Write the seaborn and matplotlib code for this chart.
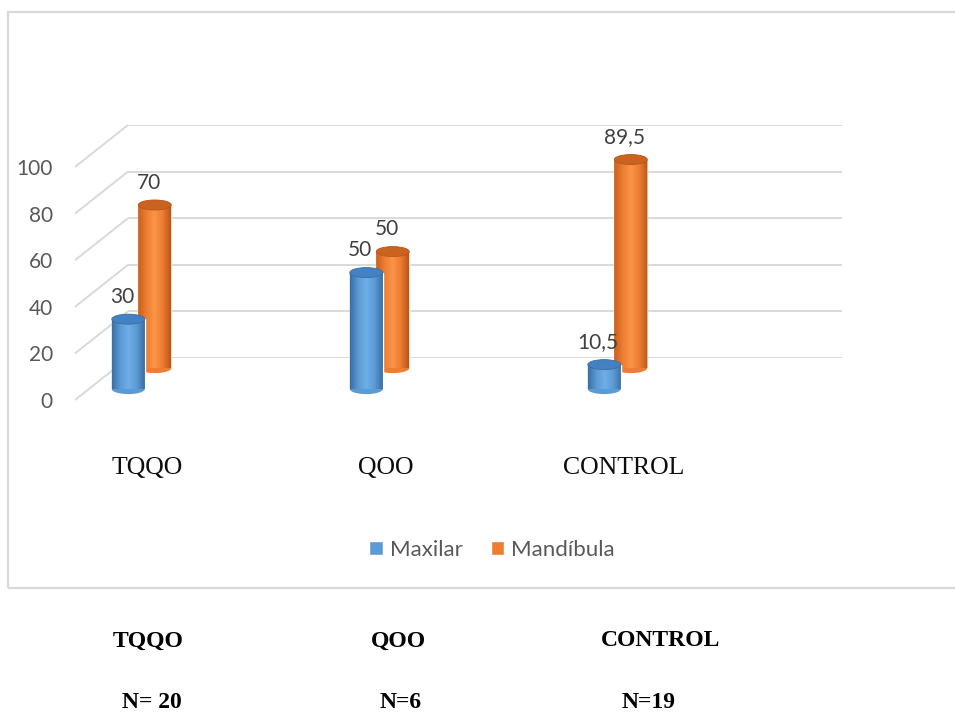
import numpy as np
import matplotlib
matplotlib.use("Agg")
import matplotlib.pyplot as plt
import seaborn as sns
from matplotlib.patches import Ellipse, Rectangle, Patch, PathPatch
from matplotlib.path import Path
from matplotlib.colors import LinearSegmentedColormap

# ---- data -------------------------------------------------------------
categories = ["TQQO", "QOO", "CONTROL"]
maxilar = [30, 50, 10.5]
mandibula = [70, 50, 89.5]
series_names = ["Maxilar", "Mandíbula"]
group_sizes = ["N= 20", "N=6", "N=19"]
y_ticks = [0, 20, 40, 60, 80, 100]

# ---- figure / style ---------------------------------------------------
W, H, DPI = 955, 713, 100
sns.set_theme(style="white")
plt.rcParams["font.family"] = ["Lato", "DejaVu Sans"]
fig = plt.figure(figsize=(W / DPI, H / DPI), dpi=DPI)
fig.patch.set_facecolor("white")

BLUE, ORANGE = "#5B9BD5", "#ED7D31"
GRID = "#D9D9D9"
TXT = "#595959"

# pseudo-3D layout in pixels (y measured from the top of the canvas)
FRONT_LEFT, FRONT_RIGHT = 75, 789
FRONT_BASE, FRONT_TOP = 400, 167
DEPTH_DX, DEPTH_DY = 53, 42
CAT0, CAT_STEP = 114.5, 238
BAR_W = 33 / CAT_STEP
PX_PER_UNIT = (FRONT_BASE - FRONT_TOP) / 100.0
ELL_H = 10 / PX_PER_UNIT
XLIM = ((FRONT_LEFT - CAT0) / CAT_STEP, (FRONT_RIGHT - CAT0) / CAT_STEP)


def plane_axes(depth, z):
    left = FRONT_LEFT + DEPTH_DX * depth
    base = FRONT_BASE - DEPTH_DY * depth
    rect = [left / W, 1 - base / H,
            (FRONT_RIGHT - FRONT_LEFT) / W, (FRONT_BASE - FRONT_TOP) / H]
    ax = fig.add_axes(rect, zorder=z)
    ax.patch.set_alpha(0)
    return ax


def finish(ax):
    ax.set_xlim(*XLIM)
    ax.set_ylim(0, 100)
    ax.set_xlabel("")
    ax.set_ylabel("")
    for s in ax.spines.values():
        s.set_visible(False)
    ax.set_xticks([])
    ax.set_yticks([])


# ---- back wall with gridlines and receding side lines ---------------
ax_wall = plane_axes(1.0, 0)
finish(ax_wall)
ax_wall.hlines(y_ticks, XLIM[0], XLIM[1], color=GRID, lw=1.4)
dxu = DEPTH_DX / CAT_STEP
dyu = DEPTH_DY / PX_PER_UNIT
for v in y_ticks:
    ax_wall.plot([XLIM[0] - dxu, XLIM[0]], [v - dyu, v], color=GRID,
                 lw=1.4, clip_on=False, solid_capstyle="butt")


# ---- cylinders --------------------------------------------------------
def cylinders(ax, values, base, dark_l, light, dark_r, top):
    sns.barplot(x=categories, y=values, order=categories, ax=ax,
                color=base, width=BAR_W, saturation=1, zorder=2)
    finish(ax)
    cmap = LinearSegmentedColormap.from_list(
        "shade", [dark_l, base, light, base, dark_r])
    grad = np.linspace(0, 1, 64).reshape(1, -1)
    for bar, v in zip(list(ax.patches), values):
        x0, w, h = bar.get_x(), bar.get_width(), bar.get_height()
        cx = x0 + w / 2
        t = np.linspace(np.pi, 2 * np.pi, 40)
        arc = np.column_stack([cx + w / 2 * np.cos(t), ELL_H / 2 * np.sin(t)])
        verts = np.vstack([[x0, h], arc, [x0 + w, h], [x0, h]])
        body = PathPatch(Path(verts), transform=ax.transData,
                         facecolor=base, edgecolor="none", zorder=2,
                         clip_on=False)
        ax.add_patch(body)
        im = ax.imshow(grad, extent=[x0, x0 + w, -ELL_H / 2, h],
                       aspect="auto", cmap=cmap, zorder=3,
                       interpolation="bilinear")
        im.set_clip_path(body)
        im.set_clip_box(None)
        ax.add_patch(Ellipse((cx, h), w, ELL_H, facecolor=top,
                             edgecolor=dark_r, lw=0.6, zorder=4,
                             clip_on=False))
        label = f"{v:g}".replace(".", ",")
        ax.annotate(label, (cx, h), xytext=(-4.5, 16),
                    textcoords="offset points", ha="center", va="center",
                    fontsize=15, color="#404040", annotation_clip=False)
    finish(ax)
    ax.set_aspect("auto")


ax_back = plane_axes(0.76, 1)
cylinders(ax_back, mandibula, ORANGE, "#C9601C", "#FA9448", "#B9561A", "#C9631F")

ax_front = plane_axes(0.26, 2)
cylinders(ax_front, maxilar, BLUE, "#3A6FA6", "#6FAEE6", "#3B6EA3", "#4381C2")

# ---- value axis labels on the front edge -----------------------------
ax_axis = plane_axes(0.0, 3)
finish(ax_axis)
ax_axis.set_yticks(y_ticks)
ax_axis.set_yticklabels([str(v) for v in y_ticks])
ax_axis.tick_params(axis="y", length=0, pad=16, labelsize=15, labelcolor=TXT)

# ---- category labels on the floor ------------------------------------
ax_floor = plane_axes(0.62, 3)
finish(ax_floor)
ax_floor.set_xticks(range(len(categories)))
ax_floor.set_xticklabels(categories, family=["Liberation Serif"],
                         fontsize=18.5, color="#0D0D0D")
ax_floor.tick_params(axis="x", length=0, pad=60)

# ---- legend -----------------------------------------------------------
fig.legend(handles=[Patch(facecolor=BLUE), Patch(facecolor=ORANGE)],
           labels=series_names, loc="center",
           bbox_to_anchor=(492 / W, 1 - 550 / H), ncol=2, frameon=False,
           fontsize=16, handlelength=0.62, handleheight=0.62,
           handletextpad=0.3, columnspacing=1.25, labelcolor=TXT)

# ---- chart frame ------------------------------------------------------
fig.add_artist(Rectangle((8 / W, 1 - 588 / H), (980 - 8) / W, (588 - 12) / H,
                         transform=fig.transFigure, fill=False,
                         edgecolor=GRID, lw=1.6))

# ---- group summary below the chart -----------------------------------
name_x = [148, 398, 661]
size_x = [152, 401, 649]
for name, nx in zip(categories, name_x):
    fig.text(nx / W, 1 - 641 / H, name, ha="center", va="center",
             family=["Liberation Serif"], weight="bold", fontsize=17,
             color="black")
for size, sx in zip(group_sizes, size_x):
    fig.text(sx / W, 1 - 702 / H, size, ha="center", va="center",
             family=["Liberation Serif"], weight="bold", fontsize=17,
             color="black")

fig.savefig("out.png", dpi=DPI, facecolor="white")
